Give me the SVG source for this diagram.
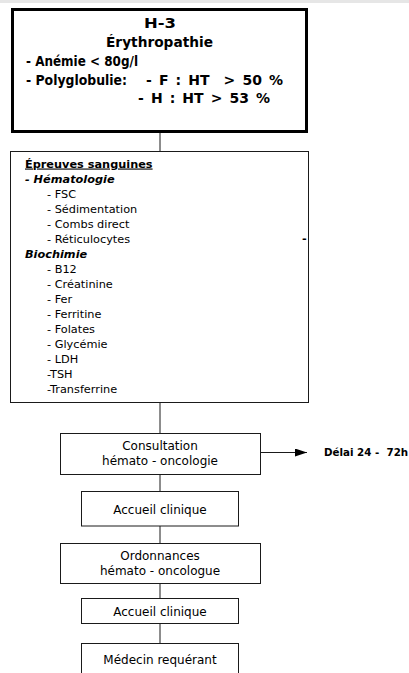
<svg xmlns="http://www.w3.org/2000/svg" width="409" height="673" viewBox="0 0 409 673">
<defs>
<style>
.box{fill:#fff;stroke:#1a1a1a;stroke-width:1}
.big{fill:#fff;stroke:#000;stroke-width:3}
.ln{stroke:#1a1a1a;stroke-width:1;fill:none}
.t{font-family:"DejaVu Sans",Verdana,sans-serif;fill:#000}
.hb{font-size:14px;font-weight:bold}
.r12{font-size:12px}
.r11{font-size:11.3px}
.b11{font-size:11.3px;font-weight:bold}
.bi11{font-size:11.3px;font-weight:bold;font-style:italic}
.b10{font-size:10.3px;font-weight:bold}
.c{text-anchor:middle}
</style>
<marker id="ah" viewBox="0 0 12 8" refX="12" refY="4" markerWidth="12" markerHeight="8" markerUnits="userSpaceOnUse" orient="auto">
<path d="M0,0 L12,4 L0,8 Z" fill="#000"/>
</marker>
</defs>
<rect x="0" y="0" width="409" height="673" fill="#fff"/>
<rect x="0" y="0" width="409" height="3" fill="#e6e6e6"/>
<g id="connectors">
<line class="ln" x1="160" y1="132" x2="160" y2="151"/>
<line class="ln" x1="160" y1="402" x2="160" y2="433"/>
<line class="ln" x1="160" y1="474" x2="160" y2="491.5"/>
<line class="ln" x1="160" y1="526" x2="160" y2="543.5"/>
<line class="ln" x1="160" y1="583.5" x2="160" y2="598.5"/>
<line class="ln" x1="160" y1="623.5" x2="160" y2="643.5"/>
<line class="ln" x1="260.5" y1="452.5" x2="307" y2="452.5" marker-end="url(#ah)"/>
</g>
<g id="node-h3">
<rect class="big" x="12.5" y="9.5" width="294" height="122"/>
<text class="t hb" x="144" y="28" textLength="32" lengthAdjust="spacingAndGlyphs">H-3</text>
<text class="t hb" x="106" y="46.5" textLength="107" lengthAdjust="spacingAndGlyphs">Érythropathie</text>
<text class="t hb" x="26" y="66" textLength="112" lengthAdjust="spacingAndGlyphs">- Anémie &lt; 80g/l</text>
<text class="t hb" x="26" y="85" textLength="101" lengthAdjust="spacingAndGlyphs">- Polyglobulie:</text>
<text class="t hb" x="146" y="85" xml:space="preserve" word-spacing="2.2">- F : HT  &gt; 50 %</text>
<text class="t hb" x="138" y="102.5" word-spacing="2.2">- H : HT &gt; 53 %</text>
</g>
<g id="node-epreuves">
<rect class="box" x="10.5" y="151.5" width="298" height="251"/>
<text class="t b11" x="25" y="167.5" text-decoration="underline">Épreuves sanguines</text>
<text class="t bi11" x="25" y="182.5">- Hématologie</text>
<text class="t r11" x="47" y="197.5">- FSC</text>
<text class="t r11" x="47" y="212.5">- Sédimentation</text>
<text class="t r11" x="47" y="227.5">- Combs direct</text>
<text class="t r11" x="47" y="242.5">- Réticulocytes</text>
<text class="t b11" x="302" y="241.5">-</text>
<text class="t bi11" x="25" y="257.5">Biochimie</text>
<text class="t r11" x="47" y="272.5">- B12</text>
<text class="t r11" x="47" y="287.5">- Créatinine</text>
<text class="t r11" x="47" y="302.5">- Fer</text>
<text class="t r11" x="47" y="317.5">- Ferritine</text>
<text class="t r11" x="47" y="332.5">- Folates</text>
<text class="t r11" x="47" y="347.5">- Glycémie</text>
<text class="t r11" x="47" y="362.5">- LDH</text>
<text class="t r11" x="47" y="377.5">-TSH</text>
<text class="t r11" x="47" y="392.5">-Transferrine</text>
</g>
<g id="node-consultation">
<rect class="box" x="60.5" y="433.5" width="200" height="41"/>
<text class="t r12 c" x="160" y="450">Consultation</text>
<text class="t r12 c" x="160" y="464.5">hémato - oncologie</text>
</g>
<g id="node-delai">
<text class="t b10" x="324" y="456" xml:space="preserve">Délai 24 -  72h</text>
</g>
<g id="node-accueil1">
<rect class="box" x="81.5" y="491.5" width="157" height="34.5"/>
<text class="t r12 c" x="160" y="514">Accueil clinique</text>
</g>
<g id="node-ordonnances">
<rect class="box" x="60.5" y="543.5" width="200" height="40"/>
<text class="t r12 c" x="160" y="559.5">Ordonnances</text>
<text class="t r12 c" x="160" y="574.5">hémato - oncologue</text>
</g>
<g id="node-accueil2">
<rect class="box" x="81.5" y="598.5" width="157" height="25"/>
<text class="t r12 c" x="160" y="616">Accueil clinique</text>
</g>
<g id="node-medecin">
<rect class="box" x="81.5" y="643.5" width="157" height="40"/>
<text class="t r12 c" x="160" y="664">Médecin requérant</text>
</g>
</svg>
